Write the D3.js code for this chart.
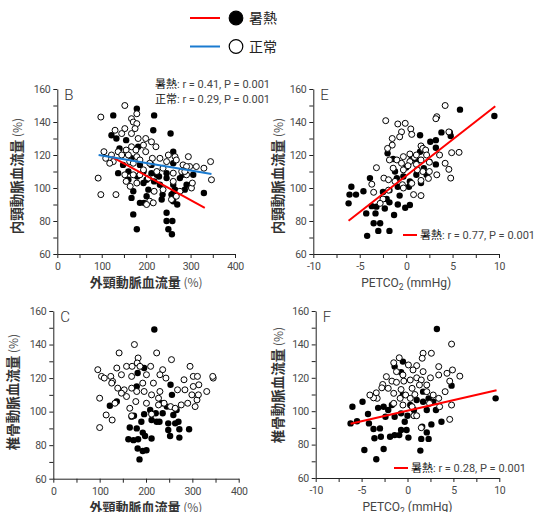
<!DOCTYPE html>
<html lang="ja">
<head>
<meta charset="UTF-8">
<title>暑熱 vs 正常</title>
<script src="https://d3js.org/d3.v7.min.js"></script>
<style>
  body { margin: 0; background: #fff; }
  svg { display: block; }
  .tick text { font-family: Roboto, "Liberation Sans", sans-serif; font-size: 10.5px; letter-spacing: -0.4px; fill: #4a4a4a; }
  .tick line, .domain { stroke: #222; }
  .cjk { font-family: "Noto Sans CJK JP", "Noto Sans", sans-serif; }
  .stat { font-family: Roboto, "Liberation Sans", sans-serif; font-size: 11px; fill: #444; }
</style>
</head>
<body>
<svg width="537" height="512"></svg>
<script>
// --- data ---
// B: external carotid flow (%) vs internal carotid flow (%)
const bHeat = [[126,144],[179,148],[218,144],[122,132],[133,130],[155,129],[216,135],[255,133],[140,124],[182,125],
  [261,122],[167,118],[148,114],[186,114],[212,114],[261,115],[137,109],[160,110],[212,109],[224,108],[246,109],
  [282,108],[306,108],[160,105],[180,107],[201,105],[246,106],[194,103],[218,104],[261,102],[291,102],[171,98],
  [205,99],[167,94],[201,95],[237,96],[261,97],[287,99],[330,97],[186,91],[195,91],[235,93],[261,92],[270,90],
  [171,84],[246,85],[246,80],[259,80],[179,75],[250,75],[258,72],[276,106],[194,110],[231,102],[265,99],[257,96],[229,107]];
const bNormal = [[152,150],[98,143],[179,145],[167,142],[171,140],[179,139],[130,135],[152,136],[175,136],[167,133],
  [145,133],[182,130],[199,130],[212,128],[222,125],[194,126],[167,125],[177,123],[199,122],[155,123],[137,122],
  [160,120],[179,119],[214,118],[231,118],[250,120],[265,119],[295,119],[105,122],[109,118],[126,116],[118,115],
  [145,120],[163,116],[186,117],[208,115],[246,116],[268,117],[283,114],[298,113],[313,113],[330,112],[345,116],
  [347,105],[92,106],[98,96],[132,96],[152,108],[155,104],[179,103],[164,101],[171,108],[186,108],[205,106],
  [224,110],[238,112],[261,109],[280,110],[291,113],[302,100],[304,103],[218,98],[208,92],[216,91],[201,90],
  [238,99],[257,93],[268,95],[276,98],[261,104],[291,108],[287,110],[171,115],[194,111],[122,120]];
const bHeatFit = [[122,119],[332,88]];
const bNormalFit = [[93,120],[347,108.5]];

// E: PETCO2 (mmHg) vs internal carotid flow (%)
const eHeat = [[5.8,147.5],[9.5,143.6],[4.7,133.7],[4.8,131.5],[3.8,133.7],[3.2,129],[2.6,128],[3.2,124.4],[1.5,132],
  [-2.0,121],[-1.4,117.6],[-1.2,110],[1.1,116.4],[1.9,112],[3.2,114.3],[2.5,116],[-3.9,106],[-5.9,100.8],[-6.1,96],
  [-5.4,96],[-4.6,98],[-6.2,90.7],[-3.7,89],[-4.3,84.6],[-3.3,84.6],[-3.2,88.7],[-2.3,87.6],[-1.8,91.3],[-1.3,83.6],
  [-0.9,90],[-0.1,88],[0.4,89.7],[-3.5,78.6],[-2.8,78.6],[-3.0,74],[-1.8,74],[-4.2,71],[-2.5,97.6],[-1.8,98.7],
  [-0.9,100.8],[0.4,104],[1.1,108],[1.6,103],[-1.0,106],[-0.3,107],[0.0,112.5],[-0.7,95.4],[0.3,100.8],[-2.1,93.3],
  [2.2,108],[0.6,118],[1.5,122]];
const eNormal = [[4.2,150],[-2.2,140.8],[-0.9,138.8],[-0.1,139.2],[0.5,135.8],[0.6,132.5],[-0.5,134],[-0.7,131],
  [-1.5,130],[3.3,143.2],[3.2,142],[4.6,134],[-1.5,126],[-2.0,124],[1.6,125.5],[1.8,124],[2.1,123],[3.6,120],
  [4.9,121.4],[5.7,121.6],[4.2,115],[4.6,111.3],[4.8,106],[3.3,108],[-1.8,117],[-1.0,117],[-0.3,119],[0.4,116],
  [0.9,118.6],[1.6,117],[2.5,115.6],[-0.5,115],[0.2,113.5],[1.1,114.3],[1.8,110],[2.5,110],[1.2,111],[-1.4,112],
  [-3.2,112.3],[-2.4,106],[-1.9,105],[-1.2,104],[-0.4,102],[0.6,102.8],[1.6,104.6],[2.4,105.8],[-0.3,100],[0.8,96],
  [1.6,95.4],[-1.9,98.7],[-3.5,97.4],[-3.7,102.3],[-2.5,93.3],[-2.8,90.7],[-0.3,111],[2.2,120],[0.4,120.6],[1.1,120]];
const eHeatFit = [[-6.2,80.2],[9.6,149.5]];

// C: external carotid flow (%) vs vertebral flow (%)
const cHeat = [[218,149],[196,126],[182,123],[180,115],[253,116],[256,110],[122,103.5],[137,106],[174,97.5],[196,98.5],
  [236,99],[266,101],[259,98],[245,103],[165,90.5],[180,90],[162,83.5],[173,83],[183,83.5],[198,85.5],[193,87.5],
  [182,78],[201,77],[193,76.5],[186,71.5],[212,84],[229,94],[223,94],[212,95],[248,93],[263,93],[270,94],[248,89],
  [272,89.5],[293,89.5],[252,85.5],[272,84.5],[234,105],[169,97],[209,101],[221,99],[190,94]];
const cNormal = [[175,140],[142,135],[223,135],[255,131],[183,132],[181,129],[96,125],[104,121],[110,120],[124,121],
  [137,126],[158,127],[170,127],[187,127],[210,127],[236,125],[230,122],[243,120],[295,127],[302,121],[311,121],
  [128,118],[147,122],[169,121],[201,122],[193,117],[216,117],[282,119],[302,115],[314,116],[345,120],[126,117],
  [139,114],[153,113],[169,114],[180,112],[196,112],[212,110],[227,108],[239,105],[268,113],[284,113],[299,110],
  [310,107],[331,112],[147,111],[158,109],[178,106],[201,105],[227,104],[253,103],[276,104],[290,105],[306,103],
  [100,108],[114,98],[127,95],[100,90.5],[133,105],[165,102],[169,97.5],[212,98.5],[230,112],[263,102],[313,110],[344,121]];

// F: PETCO2 (mmHg) vs vertebral flow (%)
const fHeat = [[3.2,149.2],[9.6,107.7],[4.8,115.3],[3.7,93.7],[2.6,92.1],[1.5,83.4],[2.3,83.4],[2.1,87.3],[1.6,90.7],
  [1.4,76.4],[-6.2,92.7],[-5.5,94],[-6.0,102.7],[-4.9,105.7],[-4.3,98.3],[-4.2,92.7],[-3.7,89.3],[-3.6,83.8],
  [-3.0,89.7],[-2.9,84.7],[-4.7,76.8],[-2.6,77.4],[-3.4,71.2],[-3.2,102],[-2.6,102.7],[-2.1,100.7],[-1.9,84.7],
  [-1.4,85.7],[-0.9,85.7],[-0.7,88.7],[-0.1,88.7],[0.1,84.2],[-0.3,93.7],[0.0,97.3],[0.7,100.7],[-1.4,96.7],
  [-0.7,98.7],[-1.4,126.7],[-0.7,123.3],[-0.5,129.7],[2.1,100.7],[3.1,100.7],[2.8,105.7],[2.3,107.7],[1.7,111.7],
  [1.0,106.7],[0.3,103.7],[1.7,105.7],[-0.5,109.7],[-1.7,103.7],[-2.4,96.7]];
const fNormal = [[4.8,140.2],[-0.9,132],[-1.5,129],[2.6,134.7],[1.7,134.7],[1.6,131.7],[0.1,127.7],[1.0,127.3],
  [0.6,124.7],[3.4,126.7],[4.9,124.7],[5.7,121],[4.3,122.7],[3.4,121.7],[2.5,120],[-2.3,120.7],[-1.7,118],[-1.2,117.3],
  [-0.4,118],[1.0,120],[1.5,118.7],[2.1,115.7],[4.6,118],[4.1,111.7],[4.8,103.7],[4.6,95.1],[-2.7,116],[-2.1,113.7],
  [-1.5,110.7],[-0.7,113],[0.5,113.7],[0.8,110],[-0.2,109.7],[-0.8,107.7],[0.3,107.7],[1.3,115.7],[2.1,111.7],
  [2.8,109.7],[3.4,107.7],[-3.4,111],[-3.3,107.7],[-3.7,108],[-1.5,104.7],[-0.5,103.7],[0.5,102.7],[0.7,97.3],
  [1.0,97.3],[1.5,90.1],[3.5,102.7],[2.4,104.7],[0.3,118.7],[-1.2,123.7],[-0.5,121.7],[1.7,123.7],[-2.8,114],[-4.1,109.7]];
const fHeatFit = [[-6.2,92.5],[9.7,112.5]];

const ecaTicks = d3.range(0, 401, 50);
const petTicks = d3.range(-10, 10.1, 2.5);
const flowTicks = d3.range(60, 161, 10);

const svg = d3.select("svg");

function panel(opt) {
  const x = d3.scaleLinear().domain(opt.xDomain).range(opt.xRange);
  const y = d3.scaleLinear().domain([60, 160]).range(opt.yRange);
  const g = svg.append("g");

  g.append("g")
    .attr("transform", `translate(0,${opt.yRange[0]})`)
    .call(d3.axisBottom(x).tickValues(opt.xTicks).tickSize(4).tickSizeOuter(0)
      .tickFormat(d => (Math.abs(d % opt.xLabelStep) < 1e-9 ? d : "")))
    .call(a => a.selectAll("text").attr("dy", "0.85em"));

  g.append("g")
    .attr("transform", `translate(${opt.xRange[0]},0)`)
    .call(d3.axisLeft(y).tickValues(flowTicks).tickSize(4).tickSizeOuter(0)
      .tickFormat(d => (d % 20 === 0 ? d : "")));

  const dots = g.append("g");
  dots.selectAll("circle.heat").data(opt.heat).join("circle")
    .attr("class", "heat")
    .attr("cx", d => x(d[0])).attr("cy", d => y(d[1])).attr("r", 3.2)
    .attr("fill", "#000");
  dots.selectAll("circle.norm").data(opt.normal).join("circle")
    .attr("class", "norm")
    .attr("cx", d => x(d[0])).attr("cy", d => y(d[1])).attr("r", 3)
    .attr("fill", "#fff").attr("stroke", "#000").attr("stroke-width", 1);

  const line = d3.line().x(d => x(d[0])).y(d => y(d[1]));
  (opt.fits || []).forEach(f => {
    g.append("path").attr("d", line(f.pts)).attr("stroke", f.color)
      .attr("stroke-width", 2).attr("fill", "none");
  });

  // panel letter
  g.append("text").attr("x", opt.xRange[0] + 7).attr("y", opt.yRange[1] + 11)
    .attr("font-family", "Roboto, sans-serif").attr("font-weight", 300)
    .attr("font-size", 15).attr("fill", "#333").text(opt.letter);

  // y title
  const yt = g.append("text").attr("class", "cjk")
    .attr("transform", `translate(${opt.yTitleX},${opt.yTitleY}) rotate(-90)`)
    .attr("text-anchor", "middle").attr("font-size", 13.5).attr("font-weight", 600).attr("fill", "#333");
  yt.append("tspan").text(opt.yTitle);
  yt.append("tspan").attr("font-weight", 400).attr("font-size", 12).attr("fill", "#555").text(" (%)");

  // x title
  const xt = g.append("text").attr("x", (opt.xRange[0] + opt.xRange[1]) / 2).attr("y", opt.yRange[0] + 33)
    .attr("text-anchor", "middle").attr("fill", "#444");
  if (opt.xTitle === "PET") {
    xt.attr("font-family", "Roboto, sans-serif").attr("font-size", 12);
    xt.append("tspan").text("PETCO");
    xt.append("tspan").attr("font-size", 8.5).attr("dy", 3).text("2");
    xt.append("tspan").attr("dy", -3).text(" (mmHg)");
  } else {
    xt.attr("class", "cjk").attr("font-size", 13).attr("font-weight", 600).attr("fill", "#333");
    xt.append("tspan").text(opt.xTitle);
    xt.append("tspan").attr("font-weight", 400).attr("font-size", 12).attr("fill", "#555").text(" (%)");
  }
  return g;
}

function stat(g, xPos, yPos, name, rest, lineColor) {
  let tx = xPos;
  if (lineColor) {
    g.append("line").attr("x1", xPos).attr("x2", xPos + 14).attr("y1", yPos - 4).attr("y2", yPos - 4)
      .attr("stroke", lineColor).attr("stroke-width", 2);
    tx = xPos + 17;
  }
  const t = g.append("text").attr("x", tx).attr("y", yPos).attr("class", "stat");
  t.append("tspan").attr("class", "cjk").attr("font-size", 11).attr("fill", "#111").text(name);
  t.append("tspan").text(rest);
}

const gB = panel({ letter: "B", xDomain: [0, 400], xRange: [57.3, 235], yRange: [254, 89], xTicks: ecaTicks, xLabelStep: 100,
  heat: bHeat, normal: bNormal,
  fits: [{ pts: bHeatFit, color: "#ff0000" }, { pts: bNormalFit, color: "#1a7bd0" }],
  yTitle: "内頸動脈血流量", yTitleX: 22, yTitleY: 176, xTitle: "外頸動脈血流量" });
stat(gB, 155, 88, "暑熱", ": r = 0.41, P = 0.001");
stat(gB, 155, 102.5, "正常", ": r = 0.29, P = 0.001");

const gE = panel({ letter: "E", xDomain: [-10, 10], xRange: [313.3, 499], yRange: [254, 89], xTicks: petTicks, xLabelStep: 5,
  heat: eHeat, normal: eNormal,
  fits: [{ pts: eHeatFit, color: "#ff0000" }],
  yTitle: "内頸動脈血流量", yTitleX: 283, yTitleY: 176, xTitle: "PET" });
stat(gE, 403, 239, "暑熱", ": r = 0.77, P = 0.001", "#ff0000");

panel({ letter: "C", xDomain: [0, 400], xRange: [53.3, 238.7], yRange: [478.7, 311], xTicks: ecaTicks, xLabelStep: 100,
  heat: cHeat, normal: cNormal,
  yTitle: "椎骨動脈血流量", yTitleX: 18, yTitleY: 392, xTitle: "外頸動脈血流量" });

const gF = panel({ letter: "F", xDomain: [-10, 10], xRange: [315.7, 499.3], yRange: [478, 311], xTicks: petTicks, xLabelStep: 5,
  heat: fHeat, normal: fNormal,
  fits: [{ pts: fHeatFit, color: "#ff0000" }],
  yTitle: "椎骨動脈血流量", yTitleX: 283, yTitleY: 385, xTitle: "PET" });
stat(gF, 394, 472, "暑熱", ": r = 0.28, P = 0.001", "#ff0000");

// legend
const legend = svg.append("g");
const legendItems = [
  { name: "暑熱", line: "#ff0000", fill: "#000" },
  { name: "正常", line: "#1a7bd0", fill: "#fff" }
];
legendItems.forEach((it, i) => {
  const yy = 18 + i * 28.5;
  legend.append("line").attr("x1", 190).attr("x2", 220).attr("y1", yy).attr("y2", yy)
    .attr("stroke", it.line).attr("stroke-width", 2);
  legend.append("circle").attr("cx", 236).attr("cy", yy).attr("r", 6.8)
    .attr("fill", it.fill).attr("stroke", "#000").attr("stroke-width", 1.2);
  legend.append("text").attr("class", "cjk").attr("x", 249).attr("y", yy + 5)
    .attr("font-size", 14).attr("fill", "#222").text(it.name);
});
</script>
</body>
</html>
